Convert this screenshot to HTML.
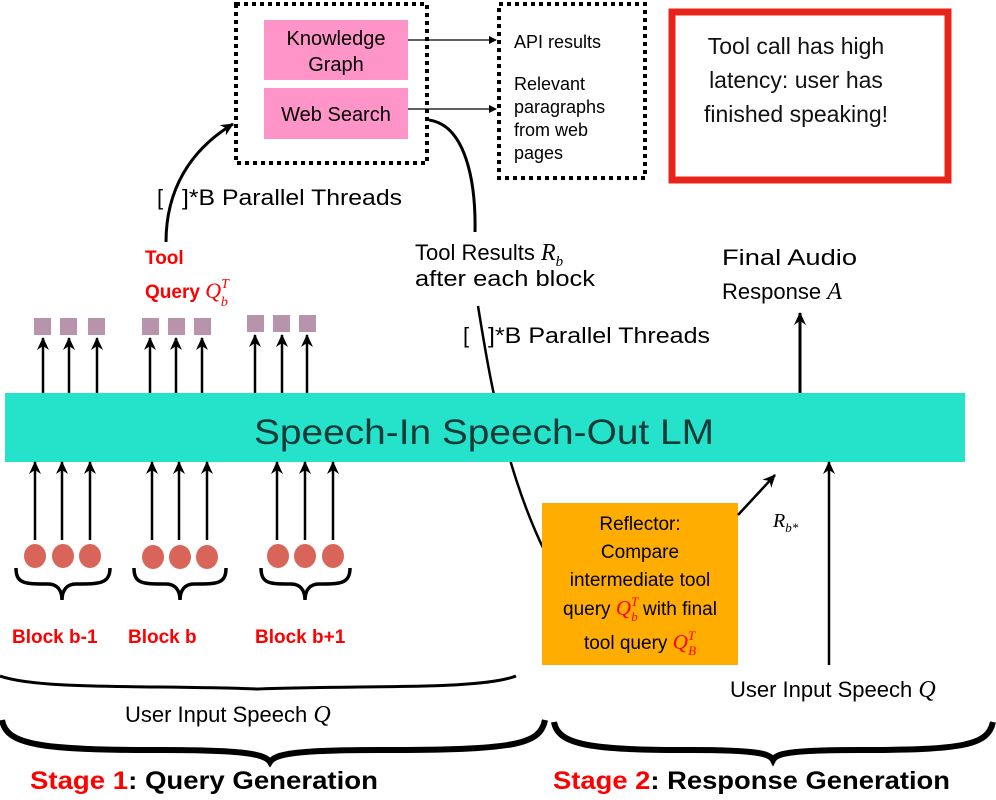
<!DOCTYPE html>
<html><head><meta charset="utf-8"><style>
html,body{margin:0;padding:0;background:#fff;}
svg{display:block;font-family:"Liberation Sans",sans-serif;}
.s{font-family:"Liberation Serif",serif;font-style:italic;}
</style></head><body>
<svg width="996" height="800" viewBox="0 0 996 800" xmlns="http://www.w3.org/2000/svg">
<defs>
<marker id="a" markerWidth="8" markerHeight="8" refX="7" refY="4" orient="auto" markerUnits="userSpaceOnUse"><path d="M0,0 L8,4 L0,8 Z" fill="#000"/></marker>
<marker id="b" markerWidth="14" markerHeight="14" refX="12" refY="7" orient="auto" markerUnits="userSpaceOnUse"><path d="M0,1 L13,7 L0,13 L4,7 Z" fill="#000"/></marker>
</defs>
<rect x="236" y="4" width="191" height="159" fill="none" stroke="#000" stroke-width="4" stroke-dasharray="4,4"/>
<rect x="499" y="4" width="146" height="174" fill="none" stroke="#000" stroke-width="4" stroke-dasharray="4,4"/>
<rect x="264" y="20" width="144" height="60" fill="#ff94c8"/>
<rect x="264" y="88" width="144" height="51" fill="#ff94c8"/>
<text x="336" y="45" font-size="20" text-anchor="middle">Knowledge</text>
<text x="336" y="71" font-size="20" text-anchor="middle">Graph</text>
<text x="336" y="121" font-size="20" text-anchor="middle">Web Search</text>
<line x1="408" y1="40" x2="496" y2="40" stroke="#000" stroke-width="1.2" marker-end="url(#a)"/>
<line x1="408" y1="109" x2="496" y2="109" stroke="#000" stroke-width="1.2" marker-end="url(#a)"/>
<text font-size="18"><tspan x="514" y="48">API results</tspan><tspan x="514" y="90">Relevant</tspan><tspan x="514" y="113">paragraphs</tspan><tspan x="514" y="136">from web</tspan><tspan x="514" y="159">pages</tspan></text>
<rect x="672" y="12" width="276" height="168" fill="none" stroke="#e8241a" stroke-width="7"/>
<text font-size="23" text-anchor="middle" fill="#111"><tspan x="796" y="54">Tool call has high</tspan><tspan x="796" y="88">latency: user has</tspan><tspan x="796" y="122">finished speaking!</tspan></text>
<path d="M166,242 C166,190 190,150 233,124" fill="none" stroke="#000" stroke-width="3" marker-end="url(#b)"/>
<text font-size="22"><tspan x="157" y="205">[</tspan><tspan x="182" y="205" textLength="220" lengthAdjust="spacingAndGlyphs">]*B Parallel Threads</tspan></text>
<path d="M429,120 C465,125 476,180 475,232" fill="none" stroke="#000" stroke-width="3"/>
<text x="145" y="264" font-size="19" font-weight="bold" fill="#f00">Tool</text>
<text x="145" y="298" font-size="19" font-weight="bold" fill="#f00">Query <tspan class="s" font-weight="normal" font-size="22">Q</tspan><tspan class="s" font-weight="normal" font-size="14" dy="-10">T</tspan><tspan class="s" font-weight="normal" font-size="14" dx="-8" dy="18">b</tspan></text>
<text x="415" y="260" font-size="22">Tool Results <tspan class="s" font-size="24">R</tspan><tspan class="s" font-size="15" dy="6">b</tspan></text>
<text x="415" y="286" font-size="22" textLength="180" lengthAdjust="spacingAndGlyphs">after each block</text>
<text font-size="22"><tspan x="463" y="343">[</tspan><tspan x="488" y="343" textLength="222" lengthAdjust="spacingAndGlyphs">]*B Parallel Threads</tspan></text>
<path d="M478,306 C490,380 505,470 545,552" fill="none" stroke="#000" stroke-width="2.5"/>
<text x="722" y="265" font-size="22" textLength="135" lengthAdjust="spacingAndGlyphs">Final Audio</text>
<text x="722" y="299" font-size="22">Response <tspan class="s" font-size="24">A</tspan></text>
<line x1="800" y1="393" x2="800" y2="313" stroke="#000" stroke-width="3" marker-end="url(#b)"/>
<g fill="#b893ac">
<rect x="34" y="318" width="17" height="17"/><rect x="60" y="318" width="17" height="17"/><rect x="88" y="318" width="17" height="17"/>
<rect x="142" y="318" width="17" height="17"/><rect x="168" y="318" width="17" height="17"/><rect x="194" y="318" width="17" height="17"/>
<rect x="247" y="315" width="17" height="17"/><rect x="273" y="315" width="17" height="17"/><rect x="299" y="315" width="17" height="17"/>
</g>
<g stroke="#000" stroke-width="2.5">
<line x1="43" y1="393" x2="43" y2="338" marker-end="url(#b)"/><line x1="69" y1="393" x2="69" y2="338" marker-end="url(#b)"/><line x1="97" y1="393" x2="97" y2="338" marker-end="url(#b)"/>
<line x1="150" y1="393" x2="150" y2="338" marker-end="url(#b)"/><line x1="176" y1="393" x2="176" y2="338" marker-end="url(#b)"/><line x1="202" y1="393" x2="202" y2="338" marker-end="url(#b)"/>
<line x1="255" y1="393" x2="255" y2="335" marker-end="url(#b)"/><line x1="282" y1="393" x2="282" y2="335" marker-end="url(#b)"/><line x1="307" y1="393" x2="307" y2="335" marker-end="url(#b)"/>
</g>
<rect x="5" y="393" width="960" height="69" fill="#25e2cb"/>
<text x="484" y="444" font-size="35" text-anchor="middle" fill="#1a3a38" textLength="460" lengthAdjust="spacingAndGlyphs">Speech-In Speech-Out LM</text>
<g stroke="#000" stroke-width="2.5">
<line x1="35" y1="540" x2="35" y2="462" marker-end="url(#b)"/><line x1="62" y1="540" x2="62" y2="462" marker-end="url(#b)"/><line x1="90" y1="540" x2="90" y2="462" marker-end="url(#b)"/>
<line x1="152" y1="540" x2="152" y2="462" marker-end="url(#b)"/><line x1="179" y1="540" x2="179" y2="462" marker-end="url(#b)"/><line x1="207" y1="540" x2="207" y2="462" marker-end="url(#b)"/>
<line x1="277" y1="540" x2="277" y2="462" marker-end="url(#b)"/><line x1="305" y1="540" x2="305" y2="462" marker-end="url(#b)"/><line x1="333" y1="540" x2="333" y2="462" marker-end="url(#b)"/>
<line x1="829" y1="665" x2="829" y2="462" marker-end="url(#b)"/>
</g>
<g fill="#d9645a">
<ellipse cx="35" cy="556" rx="11" ry="12"/><ellipse cx="63" cy="556" rx="11" ry="12"/><ellipse cx="90" cy="556" rx="11" ry="12"/>
<ellipse cx="153" cy="557" rx="11" ry="12"/><ellipse cx="180" cy="557" rx="11" ry="12"/><ellipse cx="207" cy="557" rx="11" ry="12"/>
<ellipse cx="278" cy="556" rx="11" ry="12"/><ellipse cx="305" cy="556" rx="11" ry="12"/><ellipse cx="333" cy="556" rx="11" ry="12"/>
</g>
<g fill="none" stroke="#000" stroke-width="3.5">
<path d="M16,568 C16,584 25,584 48,584 C57,584 62,590 62,600 C62,590 67,584 76,584 C99,584 110,584 110,568"/>
<path d="M134,568 C134,584 143,584 166,584 C175,584 180,590 180,600 C180,590 185,584 194,584 C217,584 226,584 226,568"/>
<path d="M261,568 C261,584 270,584 291,584 C300,584 305,590 305,600 C305,590 310,584 319,584 C340,584 350,584 350,568"/>
<path d="M0,676 C40,690 150,685 258,689 C370,685 480,690 516,676" stroke-width="3"/>
<path d="M2,720 C6,745 40,750 160,750 C245,750 265,754 270,762 C275,754 295,750 380,750 C515,750 540,745 545,720" stroke-width="6"/>
<path d="M554,722 C558,745 590,750 690,750 C760,750 770,754 773,760 C776,754 786,750 860,750 C965,750 988,745 993,722" stroke-width="6"/>
</g>
<text font-size="19" font-weight="bold" fill="#f00"><tspan x="12" y="643">Block b-1</tspan><tspan x="128" y="643">Block b</tspan><tspan x="255" y="643">Block b+1</tspan></text>
<text x="125" y="722" font-size="22">User Input Speech <tspan class="s" font-size="24">Q</tspan></text>
<text x="730" y="697" font-size="22">User Input Speech <tspan class="s" font-size="24">Q</tspan></text>
<text x="30" y="789" font-size="25" font-weight="bold" textLength="348" lengthAdjust="spacingAndGlyphs"><tspan fill="#f00">Stage 1</tspan>: Query Generation</text>
<text x="553" y="789" font-size="25" font-weight="bold" textLength="397" lengthAdjust="spacingAndGlyphs"><tspan fill="#f00">Stage 2</tspan>: Response Generation</text>
<rect x="542" y="503" width="196" height="162" fill="#ffad00"/>
<text font-size="19" text-anchor="middle"><tspan x="640" y="530">Reflector:</tspan><tspan x="640" y="558">Compare</tspan><tspan x="640" y="586">intermediate tool</tspan></text>
<text x="640" y="615" font-size="19" text-anchor="middle">query <tspan class="s" fill="#f00" font-size="21">Q</tspan><tspan class="s" fill="#f00" font-size="13" dy="-9">T</tspan><tspan class="s" fill="#f00" font-size="13" dx="-7" dy="15">b</tspan><tspan dy="-6"> with final</tspan></text>
<text x="640" y="649" font-size="19" text-anchor="middle">tool query <tspan class="s" fill="#f00" font-size="21">Q</tspan><tspan class="s" fill="#f00" font-size="13" dy="-9">T</tspan><tspan class="s" fill="#f00" font-size="13" dx="-7" dy="15">B</tspan></text>
<line x1="738" y1="515" x2="775" y2="475" stroke="#000" stroke-width="2.5" marker-end="url(#b)"/>
<text x="773" y="527" class="s" font-size="20">R<tspan font-size="13" dy="5">b*</tspan></text>
</svg>
</body></html>
